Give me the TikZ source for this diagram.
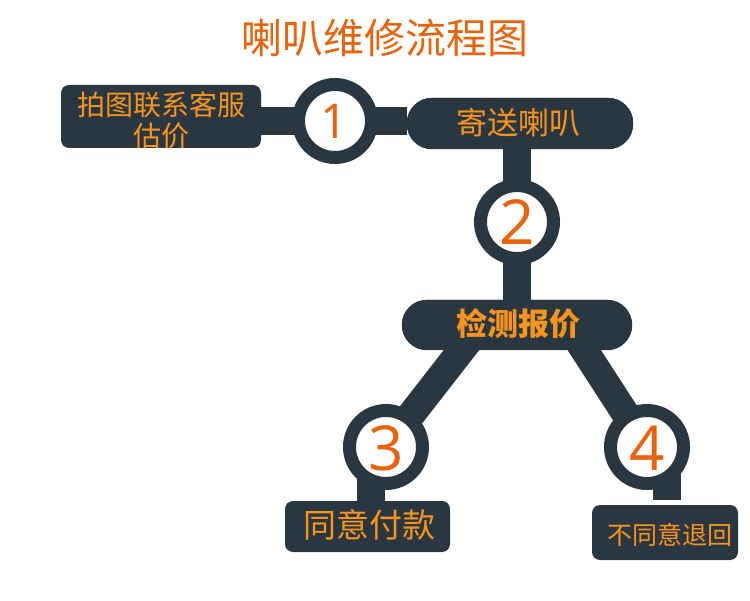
\documentclass[tikz,border=0pt]{standalone}
\usepackage{fontspec}
\newfontfamily\cjk{Noto Sans CJK SC}
\newfontfamily\numfont{Open Sans}
\definecolor{dark}{HTML}{2B3740}
\definecolor{amber}{HTML}{F7941D}
\definecolor{deeporange}{HTML}{E9620C}
\tikzset{
  bar/.style={draw=dark, line width=28pt},
  box/.style={fill=dark, rounded corners=8pt, inner sep=0pt},
  pill/.style={fill=dark, rounded corners=25pt, inner sep=0pt},
  ring/.style={circle, fill=white, draw=dark, line width=13pt, minimum size=73pt, inner sep=0pt},
  txt/.style={text=amber, inner sep=0pt, align=center},
  numtxt/.style={text=deeporange, inner sep=0pt, font=\numfont\fontsize{62}{62}\selectfont}
}
\begin{document}
\begin{tikzpicture}[x=1pt,y=-1pt]
\useasboundingbox[fill=white] (0,0) rectangle (750,601);
% title
\node[text=deeporange, font=\cjk\fontsize{41}{41}\selectfont, inner sep=0pt] (title) at (385,38) {喇叭维修流程图};
% boxes (shapes)
\node[box, minimum width=200pt, minimum height=63pt] (box1) at (161,116.5) {};
\node[pill, minimum width=226pt, minimum height=51pt] (send) at (520,123.5) {};
\node[pill, minimum width=230pt, minimum height=50pt] (check) at (517,325) {};
\node[box, minimum width=165pt, minimum height=51pt] (agree) at (367.5,526.5) {};
\node[box, minimum width=146pt, minimum height=55pt] (refuse) at (665,532.5) {};
% circle centres
\coordinate (c1) at (335,121);
\coordinate (c2) at (517,222);
\coordinate (c3) at (386,447);
\coordinate (c4) at (647,447);
% connectors
\draw[bar] (c1) -- (c1 -| box1.east);
\draw[bar] (c1) -- (c1 -| send.west);
\draw[bar] (c2) -- (c2 |- send.south);
\draw[bar] (c2) -- (c2 |- check.north);
\draw[bar] ([xshift=-36pt]check.center) -- (c3);
\draw[bar] ([xshift=51pt]check.center) -- (c4);
\draw[bar] ([xshift=-15pt]c3) -- ([xshift=-15pt]c3 |- agree.north);
\draw[bar] ([xshift=20pt]c4) -- ([xshift=20pt,yshift=5pt]c4 |- refuse.north);
% redraw pills over the diagonal bars
\fill[dark, rounded corners=25pt] (check.south west) rectangle (check.north east);
\fill[dark, rounded corners=25pt] (send.south west) rectangle (send.north east);
% rings
\node[ring] (r1) at (c1) {};
\node[ring] (r2) at (c2) {};
\node[ring] (r3) at (c3) {};
\node[ring] (r4) at (c4) {};
% numbers
\node[numtxt, font=\numfont\fontsize{48}{48}\selectfont] (n1) at (334,121) {1};
\node[numtxt] (n2) at (517,222) {2};
\node[numtxt] (n3) at (386,448) {3};
\node[numtxt] (n4) at (647,448) {4};
% texts
\node[txt, font=\cjk\fontsize{28}{31}\selectfont] (t1) at (161,120) {拍图联系客服\\估价};
\node[txt, font=\cjk\fontsize{31}{31}\selectfont] (t2) at (518,123) {寄送喇叭};
\node[txt, font=\cjk\bfseries\fontsize{31}{31}\selectfont] (t3) at (518,324) {检测报价};
\node[txt, font=\cjk\fontsize{33}{33}\selectfont] (t4) at (369,525) {同意付款};
\node[txt, font=\cjk\fontsize{25}{25}\selectfont] (t5) at (670,535) {不同意退回};
\end{tikzpicture}
\end{document}
